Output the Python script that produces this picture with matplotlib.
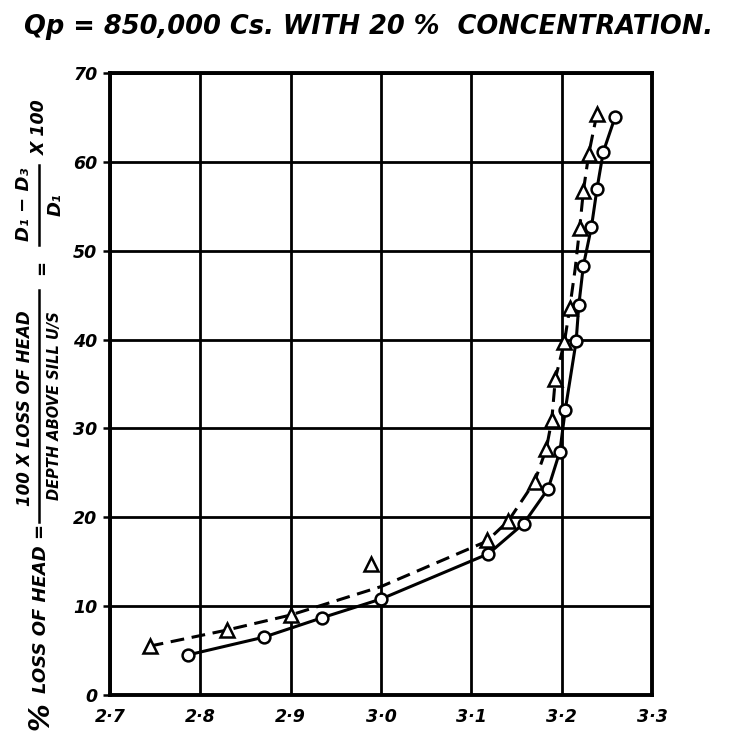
import numpy as np
import matplotlib.pyplot as plt
from matplotlib.lines import Line2D

# Triangles (plotted points)
tri_x = [2.744, 2.829, 2.900, 2.989, 3.117, 3.141, 3.170, 3.183, 3.189, 3.193,
         3.203, 3.209, 3.220, 3.224, 3.230, 3.239]
tri_y = [5.5, 7.3, 9.0, 14.7, 17.4, 19.6, 24.0, 27.7, 30.9, 35.6,
         39.7, 43.6, 52.6, 56.7, 60.9, 65.4]
# Dashed curve as drawn through the triangles
dash_x = [2.744, 2.829, 2.900, 3.000, 3.117, 3.141, 3.170, 3.183, 3.189, 3.193,
          3.203, 3.209, 3.215, 3.220, 3.224, 3.230, 3.239]
dash_y = [5.5, 7.3, 9.0, 12.2, 17.3, 19.6, 24.0, 27.7, 30.9, 35.6,
          39.7, 43.6, 48.0, 52.6, 56.7, 60.9, 65.4]

# Circles (plotted points, solid curve drawn through them)
cir_x = [2.786, 2.870, 2.935, 3.000, 3.119, 3.158, 3.185, 3.198, 3.204, 3.216,
         3.219, 3.224, 3.233, 3.239, 3.246, 3.259]
cir_y = [4.5, 6.5, 8.7, 10.8, 15.9, 19.3, 23.2, 27.4, 32.1, 39.8,
         43.9, 48.3, 52.7, 56.9, 61.1, 65.0]

xticks = [2.7, 2.8, 2.9, 3.0, 3.1, 3.2, 3.3]
xlabels = ['2·7', '2·8', '2·9', '3·0', '3·1', '3·2', '3·3']
yticks = [0, 10, 20, 30, 40, 50, 60, 70]

font = dict(family='DejaVu Sans', weight='bold', style='oblique')

fig = plt.figure(figsize=(7.36, 7.31), dpi=100)
ax = fig.add_axes([110 / 736, 1 - 695 / 731, 542 / 736, 622 / 731])

ax.plot(dash_x, dash_y, color='black', lw=2.2, ls=(0, (4.5, 2.5)), zorder=3)
ax.plot(tri_x, tri_y, ls='none', marker='^', ms=9.5, mfc='white', mec='black',
        mew=1.8, zorder=4)
ax.plot(cir_x, cir_y, color='black', lw=2.2, marker='o', ms=8.5, mfc='white',
        mec='black', mew=1.8, zorder=4)

ax.set_xlim(2.7, 3.3)
ax.set_ylim(0, 70)
ax.set_xticks(xticks)
ax.set_xticklabels(xlabels, fontdict=dict(size=12.5, **font))
ax.set_yticks(yticks)
ax.set_yticklabels([str(v) for v in yticks], fontdict=dict(size=12.5, **font))
ax.tick_params(axis='x', length=0, pad=9)
ax.tick_params(axis='y', length=5, width=1.8, pad=4)
ax.grid(True, color='black', lw=2.0)
ax.set_axisbelow(True)
for s in ax.spines.values():
    s.set_linewidth(2.8)

# Title
fig.text(369 / 736, 1 - 27 / 731, 'Qp = 850,000 Cs. WITH 20 %  CONCENTRATION.',
         ha='center', va='center', size=18.5, **font)

# Y-axis label, built from pieces (rotated)
def lab(px, py, s, size):
    fig.text(px / 736, 1 - py / 731, s, rotation=90, ha='center', va='center',
             size=size, **font)

def bar(px, y0, y1):
    fig.add_artist(Line2D([px / 736, px / 736], [1 - y0 / 731, 1 - y1 / 731],
                          color='black', lw=1.8, transform=fig.transFigure))

lab(40, 716, '%', 20)
lab(41, 608, 'LOSS OF HEAD =', 13)
lab(25, 408, '100 X LOSS OF HEAD', 12)
bar(39, 290, 522)
lab(55, 406, 'DEPTH ABOVE SILL U/S', 10.5)
lab(42, 267, '=', 13)
lab(24, 204, 'D₁ − D₃', 13)
bar(39, 165, 245)
lab(56, 205, 'D₁', 13)
lab(40, 127, 'X 100', 12.5)

fig.savefig('out.png', dpi=100)
